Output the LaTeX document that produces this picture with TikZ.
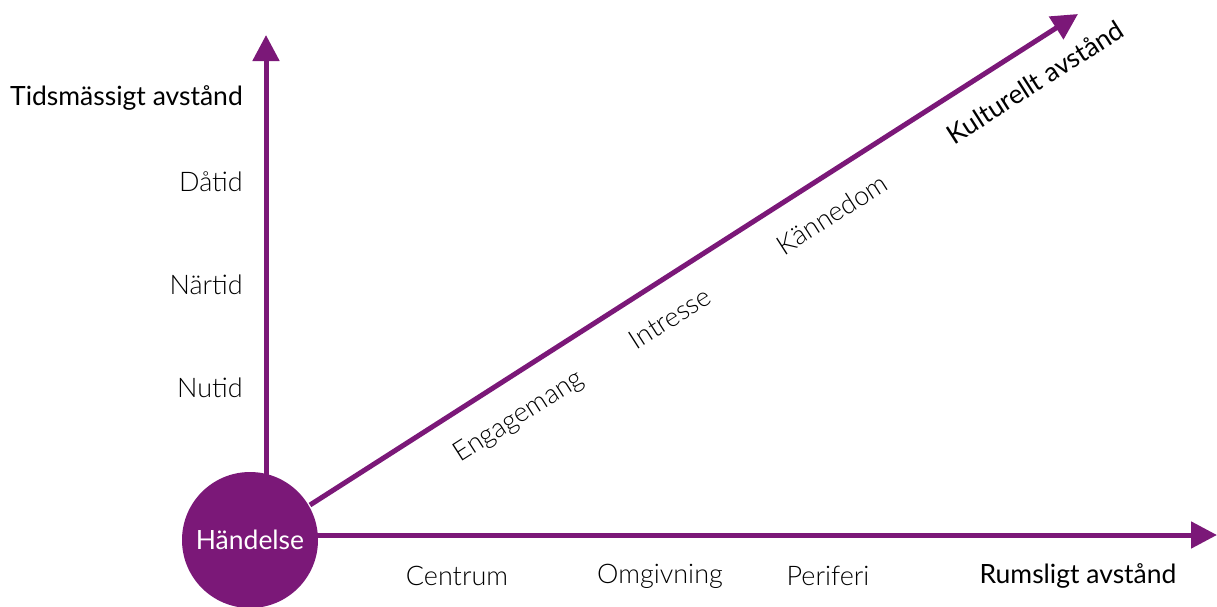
\documentclass[tikz,border=0pt]{standalone}
\usepackage{fontspec}
\setmainfont{Lato}[UprightFont=* Light, BoldFont=* Regular]
\usetikzlibrary{arrows.meta}
\definecolor{purp}{HTML}{7B1878}
\begin{document}
\begin{tikzpicture}[x=1pt,y=-1pt,
  axis/.style={draw=purp,line width=5pt,-{Triangle[length=26pt,width=26pt]}},
  lbl/.style={font=\fontsize{27}{30}\selectfont,inner sep=0pt,text=black},
  ttl/.style={font=\fontsize{26.5}{30}\selectfont\bfseries,inner sep=0pt}]
\useasboundingbox (0,0) rectangle (1217,606);
\node[circle,fill=purp,minimum size=136pt,inner sep=0pt,text=white,font=\fontsize{26.5}{30}\selectfont\bfseries] (ev) at (250,540) {Händelse};
\coordinate (vt) at (266,35);
\coordinate (ht) at (1217,535);
\coordinate (dt) at (1078,14);
\draw[axis] (266,478) -- (vt);
\draw[axis] (316,535) -- (ht);
\draw[axis] (310,505) -- (dt);
\node[ttl,anchor=east] (t1) at (243,98) {Tidsmässigt avstånd};
\node[lbl,anchor=east] (d1) at (243,182) {Dåtid};
\node[lbl,anchor=east] (d2) at (243,285) {Närtid};
\node[lbl,anchor=east] (d3) at (243,388) {Nutid};
\node[lbl] (h1) at (457,576) {Centrum};
\node[lbl] (h2) at (660,576) {Omgivning};
\node[lbl] (h3) at (828,576) {Periferi};
\node[ttl] (h4) at (1078,576) {Rumsligt avstånd};
\node[lbl,rotate=32.6] (c1) at (519,417) {Engagemang};
\node[lbl,rotate=32.6] (c2) at (670,318) {Intresse};
\node[lbl,rotate=32.6] (c3) at (832,214) {Kännedom};
\node[ttl,rotate=32.6] (c4) at (1035,82) {Kulturellt avstånd};
\end{tikzpicture}
\end{document}
